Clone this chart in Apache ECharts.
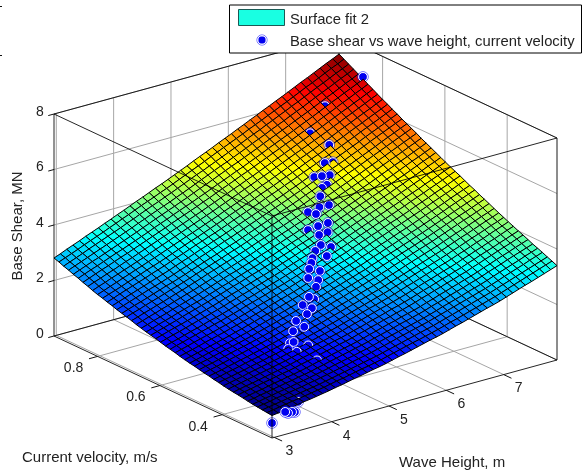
<!DOCTYPE html>
<html>
<head>
    <meta charset="utf-8">
    <title>Surface fit 2</title>
    <script src="https://cdn.jsdelivr.net/npm/echarts@6/dist/echarts.min.js"></script>
    <style>
        html, body { margin: 0; padding: 0; background: #fff; }
        #chart { width: 582px; height: 476px; }
    </style>
</head>
<body>
<div id="chart"></div>
<script type="text/javascript">
    // axis ticks
    var waveTicks = [3, 4, 5, 6, 7];
    var velTicks = [0.4, 0.6, 0.8];
    var shearTicks = [0, 2, 4, 6, 8];

    // box limits
    var waveRange = [2.96, 7.93];
    var velRange = [0.24, 0.94];
    var shearRange = [0, 8];

    // fitted surface, one row per velocity, one column per wave height
    var surfaceWave = [2.96, 3.07, 3.181, 3.291, 3.402, 3.512, 3.623, 3.733, 3.844, 3.954, 4.064, 4.175, 4.285, 4.396, 4.506, 4.617, 4.727, 4.838, 4.948, 5.058, 5.169, 5.279, 5.39, 5.5, 5.611, 5.721, 5.832, 5.942, 6.052, 6.163, 6.273, 6.384, 6.494, 6.605, 6.715, 6.826, 6.936, 7.046, 7.157, 7.267, 7.378, 7.488, 7.599, 7.709, 7.82, 7.93];
    var surfaceVel = [0.24, 0.256, 0.271, 0.287, 0.302, 0.318, 0.333, 0.349, 0.364, 0.38, 0.396, 0.411, 0.427, 0.442, 0.458, 0.473, 0.489, 0.504, 0.52, 0.536, 0.551, 0.567, 0.582, 0.598, 0.613, 0.629, 0.644, 0.66, 0.676, 0.691, 0.707, 0.722, 0.738, 0.753, 0.769, 0.784, 0.8, 0.816, 0.831, 0.847, 0.862, 0.878, 0.893, 0.909, 0.924, 0.94];
    var surfaceShear = [
        // v = 0.24
        [0.81,0.84,0.87,0.91,0.95,0.99,1.02,1.06,1.10, 1.14,1.19,1.23,1.28,1.33,1.37,1.42,1.47,1.51, 1.56,1.62,1.68,1.73,1.79,1.85,1.91,1.97,2.02, 2.08,2.15,2.22,2.28,2.35,2.42,2.49,2.56,2.62, 2.69,2.77,2.85,2.93,3.01,3.08,3.16,3.24,3.32, 3.40],
        [0.83,0.87,0.91,0.95,0.99,1.02,1.06,1.10,1.14, 1.18,1.23,1.28,1.32,1.37,1.42,1.47,1.51,1.56, 1.61,1.67,1.73,1.79,1.85,1.91,1.96,2.02,2.08, 2.14,2.21,2.28,2.34,2.41,2.48,2.55,2.62,2.69, 2.76,2.84,2.92,3.00,3.08,3.16,3.24,3.32,3.40, 3.48],
        [0.85,0.89,0.93,0.97,1.01,1.05,1.09,1.13,1.17, 1.21,1.26,1.31,1.36,1.41,1.46,1.51,1.56,1.61, 1.66,1.72,1.78,1.84,1.90,1.96,2.02,2.08,2.14, 2.20,2.27,2.34,2.41,2.48,2.55,2.62,2.69,2.76, 2.83,2.91,2.99,3.07,3.15,3.23,3.31,3.39,3.47, 3.55],
        [0.87,0.91,0.95,1.00,1.04,1.08,1.12,1.16,1.21, 1.25,1.30,1.35,1.40,1.45,1.50,1.56,1.61,1.66, 1.71,1.77,1.83,1.89,1.96,2.02,2.08,2.14,2.20, 2.26,2.33,2.40,2.47,2.54,2.61,2.68,2.75,2.82, 2.89,2.97,3.05,3.14,3.22,3.30,3.38,3.47,3.55, 3.63],
        [0.89,0.93,0.98,1.02,1.07,1.11,1.15,1.20,1.24, 1.29,1.34,1.39,1.44,1.50,1.55,1.60,1.65,1.71, 1.76,1.82,1.89,1.95,2.01,2.07,2.13,2.19,2.25, 2.31,2.38,2.45,2.53,2.60,2.67,2.74,2.82,2.89, 2.96,3.04,3.13,3.21,3.29,3.37,3.45,3.54,3.62, 3.70],
        [0.92,0.96,1.01,1.05,1.10,1.14,1.19,1.23,1.28, 1.32,1.37,1.43,1.48,1.54,1.59,1.65,1.70,1.76, 1.81,1.87,1.94,2.00,2.06,2.12,2.19,2.25,2.31, 2.37,2.44,2.52,2.59,2.66,2.74,2.81,2.88,2.96, 3.03,3.11,3.20,3.28,3.36,3.45,3.53,3.61,3.69, 3.77],
        [0.95,0.99,1.04,1.08,1.13,1.18,1.22,1.27,1.31, 1.36,1.41,1.47,1.53,1.58,1.64,1.69,1.75,1.80, 1.86,1.92,1.99,2.05,2.12,2.18,2.24,2.31,2.37, 2.43,2.50,2.58,2.65,2.73,2.80,2.88,2.95,3.03, 3.10,3.18,3.27,3.35,3.44,3.52,3.60,3.69,3.77, 3.85],
        [0.98,1.03,1.07,1.12,1.17,1.21,1.26,1.31,1.35, 1.40,1.46,1.51,1.57,1.63,1.69,1.74,1.80,1.85, 1.91,1.98,2.04,2.11,2.17,2.24,2.30,2.37,2.43, 2.50,2.57,2.65,2.72,2.80,2.87,2.95,3.02,3.10, 3.17,3.26,3.34,3.43,3.51,3.60,3.68,3.76,3.85, 3.93],
        [1.00,1.05,1.10,1.14,1.19,1.24,1.29,1.34,1.39, 1.44,1.50,1.56,1.61,1.67,1.73,1.79,1.85,1.90, 1.96,2.03,2.09,2.16,2.23,2.29,2.36,2.43,2.49, 2.56,2.63,2.71,2.79,2.86,2.94,3.02,3.09,3.17, 3.24,3.33,3.41,3.50,3.58,3.66,3.75,3.83,3.92, 4.00],
        // v = 0.38
        [1.03,1.08,1.13,1.18,1.23,1.28,1.33,1.38,1.43, 1.48,1.54,1.60,1.66,1.72,1.78,1.83,1.89,1.95, 2.01,2.08,2.15,2.21,2.28,2.35,2.42,2.48,2.55, 2.62,2.69,2.77,2.85,2.93,3.00,3.08,3.16,3.23, 3.31,3.40,3.48,3.57,3.65,3.74,3.82,3.91,4.00, 4.08],
        [1.06,1.11,1.16,1.21,1.27,1.32,1.37,1.42,1.47, 1.52,1.58,1.64,1.70,1.76,1.82,1.88,1.94,2.00, 2.06,2.13,2.20,2.27,2.34,2.41,2.47,2.54,2.61, 2.68,2.76,2.84,2.91,2.99,3.07,3.15,3.23,3.30, 3.38,3.47,3.55,3.64,3.73,3.81,3.90,3.99,4.07, 4.16],
        [1.10,1.15,1.20,1.25,1.30,1.36,1.41,1.46,1.52, 1.57,1.63,1.69,1.75,1.81,1.87,1.93,1.99,2.06, 2.12,2.19,2.26,2.33,2.40,2.47,2.54,2.61,2.68, 2.75,2.83,2.91,2.99,3.07,3.15,3.22,3.30,3.38, 3.46,3.55,3.63,3.72,3.81,3.89,3.98,4.07,4.15, 4.24],
        [1.13,1.18,1.24,1.29,1.34,1.40,1.45,1.50,1.56, 1.61,1.67,1.73,1.79,1.86,1.92,1.98,2.05,2.11, 2.18,2.25,2.32,2.39,2.46,2.53,2.60,2.67,2.74, 2.81,2.89,2.97,3.05,3.13,3.21,3.29,3.37,3.45, 3.53,3.62,3.71,3.80,3.88,3.97,4.06,4.15,4.23, 4.32],
        [1.17,1.22,1.27,1.33,1.38,1.44,1.49,1.55,1.60, 1.66,1.72,1.78,1.85,1.91,1.97,2.04,2.10,2.17, 2.23,2.30,2.38,2.45,2.52,2.59,2.67,2.74,2.81, 2.88,2.96,3.04,3.12,3.21,3.29,3.37,3.45,3.53, 3.61,3.70,3.79,3.88,3.96,4.05,4.14,4.23,4.31, 4.40],
        [1.20,1.26,1.31,1.37,1.43,1.48,1.54,1.60,1.65, 1.71,1.77,1.84,1.90,1.97,2.03,2.09,2.16,2.22, 2.29,2.36,2.44,2.51,2.58,2.66,2.73,2.80,2.88, 2.95,3.03,3.11,3.20,3.28,3.36,3.45,3.53,3.61, 3.69,3.78,3.87,3.96,4.05,4.14,4.22,4.31,4.40, 4.49],
        [1.24,1.30,1.35,1.41,1.47,1.53,1.59,1.64,1.70, 1.76,1.82,1.89,1.96,2.02,2.09,2.15,2.22,2.28, 2.35,2.42,2.50,2.57,2.65,2.72,2.79,2.87,2.94, 3.02,3.10,3.19,3.27,3.35,3.44,3.52,3.60,3.69, 3.77,3.86,3.95,4.04,4.13,4.22,4.30,4.39,4.48, 4.57],
        [1.28,1.34,1.39,1.45,1.51,1.57,1.62,1.68,1.74, 1.80,1.87,1.94,2.00,2.07,2.14,2.20,2.27,2.34, 2.41,2.48,2.56,2.63,2.71,2.78,2.86,2.93,3.01, 3.08,3.17,3.25,3.34,3.42,3.50,3.59,3.67,3.76, 3.84,3.93,4.02,4.11,4.20,4.29,4.38,4.47,4.56, 4.65],
        [1.31,1.37,1.43,1.49,1.55,1.61,1.67,1.73,1.79, 1.85,1.92,1.99,2.06,2.13,2.19,2.26,2.33,2.40, 2.47,2.55,2.62,2.70,2.77,2.85,2.93,3.00,3.08, 3.15,3.24,3.33,3.41,3.50,3.58,3.67,3.75,3.84, 3.92,4.01,4.10,4.19,4.28,4.38,4.47,4.56,4.65, 4.74],
        // v = 0.52
        [1.35,1.41,1.47,1.53,1.59,1.65,1.71,1.77,1.84, 1.90,1.97,2.04,2.11,2.18,2.25,2.32,2.39,2.46, 2.53,2.61,2.68,2.76,2.84,2.91,2.99,3.07,3.14, 3.22,3.31,3.39,3.48,3.57,3.65,3.74,3.83,3.91, 4.00,4.09,4.18,4.27,4.36,4.45,4.55,4.64,4.73, 4.82],
        [1.39,1.45,1.51,1.57,1.64,1.70,1.76,1.82,1.89, 1.95,2.02,2.09,2.16,2.23,2.31,2.38,2.45,2.52, 2.59,2.67,2.75,2.83,2.90,2.98,3.06,3.14,3.21, 3.29,3.38,3.47,3.56,3.65,3.73,3.82,3.91,3.99, 4.08,4.17,4.26,4.35,4.45,4.54,4.63,4.72,4.82, 4.91],
        [1.44,1.50,1.56,1.63,1.69,1.75,1.81,1.88,1.94, 2.01,2.08,2.15,2.22,2.30,2.37,2.44,2.51,2.59, 2.66,2.74,2.82,2.90,2.98,3.05,3.13,3.21,3.29, 3.37,3.46,3.55,3.64,3.73,3.81,3.90,3.99,4.07, 4.16,4.25,4.35,4.44,4.53,4.63,4.72,4.81,4.91, 5.00],
        [1.48,1.55,1.61,1.68,1.74,1.81,1.87,1.94,2.00, 2.07,2.14,2.21,2.29,2.36,2.43,2.50,2.58,2.65, 2.72,2.80,2.88,2.96,3.04,3.12,3.20,3.28,3.36, 3.44,3.53,3.62,3.71,3.80,3.89,3.98,4.06,4.15, 4.24,4.33,4.43,4.52,4.61,4.71,4.80,4.89,4.99, 5.08],
        [1.52,1.59,1.65,1.72,1.79,1.85,1.92,1.99,2.05, 2.12,2.19,2.27,2.34,2.42,2.49,2.57,2.64,2.72, 2.79,2.87,2.95,3.03,3.11,3.19,3.27,3.35,3.43, 3.51,3.60,3.69,3.78,3.87,3.96,4.05,4.14,4.23, 4.32,4.41,4.51,4.60,4.69,4.79,4.88,4.97,5.07, 5.16],
        [1.57,1.64,1.71,1.77,1.84,1.91,1.98,2.04,2.11, 2.18,2.25,2.33,2.40,2.48,2.55,2.63,2.70,2.78, 2.85,2.93,3.02,3.10,3.18,3.26,3.34,3.43,3.51, 3.59,3.68,3.77,3.86,3.95,4.04,4.13,4.22,4.31, 4.40,4.49,4.59,4.68,4.78,4.87,4.97,5.06,5.16, 5.25],
        [1.62,1.69,1.76,1.83,1.89,1.96,2.03,2.10,2.17, 2.24,2.31,2.39,2.47,2.54,2.62,2.69,2.77,2.84, 2.92,3.00,3.09,3.17,3.25,3.34,3.42,3.50,3.59, 3.67,3.76,3.85,3.94,4.03,4.12,4.21,4.30,4.39, 4.48,4.57,4.67,4.76,4.86,4.95,5.05,5.15,5.24, 5.34],
        [1.66,1.73,1.80,1.87,1.94,2.02,2.09,2.16,2.23, 2.30,2.38,2.45,2.53,2.61,2.68,2.76,2.84,2.91, 2.99,3.07,3.16,3.24,3.32,3.41,3.49,3.57,3.66, 3.74,3.83,3.92,4.01,4.10,4.20,4.29,4.38,4.47, 4.56,4.65,4.75,4.85,4.94,5.04,5.14,5.24,5.33, 5.43],
        [1.70,1.77,1.85,1.92,1.99,2.07,2.14,2.21,2.28, 2.35,2.43,2.51,2.59,2.66,2.74,2.82,2.90,2.97, 3.05,3.14,3.22,3.31,3.39,3.48,3.56,3.64,3.73, 3.81,3.90,4.00,4.09,4.18,4.27,4.36,4.46,4.55, 4.64,4.74,4.83,4.93,5.03,5.13,5.23,5.32,5.42, 5.52],
        // v = 0.66
        [1.75,1.82,1.90,1.97,2.04,2.12,2.19,2.26,2.34, 2.41,2.49,2.57,2.65,2.73,2.81,2.88,2.96,3.04, 3.12,3.21,3.29,3.38,3.46,3.55,3.63,3.72,3.80, 3.89,3.98,4.07,4.17,4.26,4.35,4.44,4.54,4.63, 4.72,4.82,4.92,5.02,5.12,5.21,5.31,5.41,5.51, 5.61],
        [1.80,1.87,1.95,2.02,2.10,2.17,2.25,2.32,2.40, 2.47,2.55,2.63,2.71,2.79,2.87,2.95,3.03,3.11, 3.19,3.28,3.37,3.45,3.54,3.63,3.71,3.80,3.88, 3.97,4.06,4.16,4.25,4.34,4.44,4.53,4.62,4.72, 4.81,4.91,5.01,5.11,5.21,5.30,5.40,5.50,5.60, 5.70],
        [1.86,1.93,2.01,2.08,2.16,2.23,2.31,2.39,2.46, 2.54,2.62,2.70,2.79,2.87,2.95,3.03,3.11,3.19, 3.27,3.36,3.45,3.53,3.62,3.71,3.79,3.88,3.96, 4.05,4.14,4.24,4.33,4.43,4.52,4.62,4.71,4.81, 4.90,5.00,5.10,5.20,5.30,5.40,5.50,5.60,5.70, 5.80],
        [1.91,1.99,2.06,2.14,2.22,2.29,2.37,2.45,2.52, 2.60,2.68,2.77,2.85,2.93,3.01,3.09,3.18,3.26, 3.34,3.43,3.52,3.61,3.70,3.79,3.87,3.96,4.05, 4.14,4.23,4.33,4.42,4.52,4.61,4.71,4.80,4.90, 4.99,5.09,5.19,5.29,5.39,5.49,5.59,5.69,5.79, 5.89],
        [1.96,2.04,2.12,2.19,2.27,2.35,2.43,2.51,2.58, 2.66,2.74,2.83,2.91,3.00,3.08,3.16,3.25,3.33, 3.41,3.50,3.59,3.68,3.77,3.86,3.95,4.04,4.13, 4.22,4.31,4.41,4.50,4.60,4.69,4.79,4.88,4.98, 5.07,5.17,5.27,5.37,5.47,5.58,5.68,5.78,5.88, 5.98],
        [2.01,2.09,2.17,2.25,2.33,2.41,2.48,2.56,2.64, 2.72,2.81,2.89,2.98,3.07,3.15,3.24,3.32,3.41, 3.49,3.58,3.67,3.76,3.85,3.94,4.03,4.12,4.21, 4.30,4.40,4.49,4.59,4.68,4.78,4.87,4.97,5.06, 5.16,5.26,5.36,5.46,5.57,5.67,5.77,5.87,5.97, 6.07],
        [2.07,2.15,2.23,2.31,2.39,2.47,2.55,2.63,2.71, 2.79,2.88,2.97,3.05,3.14,3.23,3.31,3.40,3.48, 3.57,3.66,3.75,3.84,3.93,4.02,4.11,4.20,4.29, 4.38,4.48,4.57,4.67,4.77,4.86,4.96,5.06,5.15, 5.25,5.35,5.45,5.55,5.66,5.76,5.86,5.96,6.07, 6.17],
        [2.12,2.20,2.29,2.37,2.45,2.53,2.61,2.70,2.78, 2.86,2.95,3.04,3.12,3.21,3.30,3.38,3.47,3.55, 3.64,3.73,3.83,3.92,4.01,4.10,4.19,4.29,4.38, 4.47,4.57,4.66,4.76,4.86,4.95,5.05,5.15,5.24, 5.34,5.44,5.54,5.64,5.75,5.85,5.95,6.05,6.16, 6.26],
        [2.18,2.26,2.34,2.42,2.51,2.59,2.67,2.76,2.84, 2.92,3.01,3.10,3.19,3.28,3.37,3.45,3.54,3.63, 3.72,3.81,3.91,4.00,4.09,4.18,4.27,4.37,4.46, 4.55,4.65,4.75,4.84,4.94,5.04,5.14,5.23,5.33, 5.43,5.53,5.63,5.74,5.84,5.94,6.05,6.15,6.25, 6.36],
        // v = 0.80
        [2.23,2.31,2.40,2.48,2.57,2.65,2.74,2.82,2.91, 2.99,3.08,3.17,3.26,3.35,3.44,3.52,3.61,3.70, 3.79,3.88,3.98,4.07,4.16,4.26,4.35,4.44,4.54, 4.63,4.73,4.83,4.93,5.03,5.13,5.22,5.32,5.42, 5.52,5.62,5.73,5.83,5.93,6.04,6.14,6.24,6.35, 6.45],
        [2.29,2.38,2.46,2.55,2.63,2.72,2.80,2.89,2.97, 3.06,3.15,3.24,3.33,3.42,3.51,3.60,3.69,3.78, 3.87,3.96,4.06,4.15,4.25,4.34,4.44,4.53,4.63, 4.72,4.82,4.92,5.02,5.12,5.22,5.31,5.41,5.51, 5.61,5.71,5.82,5.92,6.03,6.13,6.24,6.34,6.45, 6.55],
        [2.36,2.45,2.53,2.62,2.70,2.79,2.88,2.96,3.05, 3.14,3.23,3.32,3.41,3.50,3.59,3.68,3.77,3.86, 3.95,4.05,4.14,4.24,4.33,4.43,4.52,4.62,4.71, 4.81,4.91,5.01,5.11,5.21,5.31,5.41,5.51,5.61, 5.71,5.81,5.92,6.02,6.13,6.23,6.34,6.44,6.55, 6.65],
        [2.42,2.51,2.60,2.69,2.77,2.86,2.95,3.03,3.12, 3.21,3.30,3.39,3.48,3.57,3.67,3.76,3.85,3.94, 4.03,4.13,4.22,4.32,4.42,4.51,4.61,4.71,4.80, 4.90,5.00,5.10,5.20,5.30,5.40,5.50,5.60,5.70, 5.80,5.90,6.01,6.11,6.22,6.33,6.43,6.54,6.64, 6.75],
        [2.49,2.58,2.67,2.75,2.84,2.93,3.02,3.10,3.19, 3.28,3.37,3.46,3.56,3.65,3.74,3.84,3.93,4.02, 4.11,4.21,4.30,4.40,4.50,4.59,4.69,4.79,4.88, 4.98,5.08,5.18,5.29,5.39,5.49,5.59,5.69,5.80, 5.90,6.00,6.11,6.22,6.33,6.43,6.54,6.64,6.75, 6.85],
        [2.55,2.64,2.73,2.82,2.90,2.99,3.08,3.17,3.26, 3.35,3.44,3.54,3.63,3.73,3.82,3.91,4.00,4.10, 4.19,4.29,4.39,4.48,4.58,4.68,4.78,4.88,4.97, 5.07,5.17,5.27,5.38,5.48,5.58,5.68,5.78,5.89, 5.99,6.09,6.20,6.31,6.42,6.52,6.63,6.74,6.84, 6.95],
        [2.62,2.71,2.80,2.89,2.98,3.07,3.16,3.25,3.34, 3.43,3.52,3.62,3.71,3.81,3.90,3.99,4.08,4.18, 4.27,4.37,4.47,4.57,4.67,4.77,4.87,4.96,5.06, 5.16,5.26,5.37,5.47,5.57,5.68,5.78,5.88,5.99, 6.09,6.19,6.30,6.41,6.52,6.62,6.73,6.84,6.94, 7.05],
        [2.68,2.77,2.86,2.95,3.05,3.14,3.23,3.32,3.41, 3.50,3.60,3.69,3.79,3.89,3.98,4.07,4.17,4.26, 4.36,4.46,4.56,4.66,4.75,4.85,4.95,5.05,5.15, 5.25,5.35,5.46,5.56,5.66,5.77,5.87,5.98,6.08, 6.19,6.29,6.40,6.51,6.62,6.72,6.83,6.94,7.04, 7.15],
        [2.75,2.84,2.93,3.02,3.12,3.21,3.30,3.39,3.49, 3.58,3.68,3.77,3.87,3.97,4.06,4.15,4.25,4.34, 4.44,4.54,4.64,4.74,4.84,4.94,5.05,5.15,5.25, 5.35,5.45,5.55,5.66,5.76,5.86,5.97,6.07,6.18, 6.28,6.39,6.50,6.61,6.71,6.82,6.93,7.04,7.14, 7.25],
        // v = 0.94
        [2.81,2.90,3.00,3.09,3.18,3.28,3.37,3.46,3.56, 3.65,3.75,3.84,3.94,4.04,4.13,4.23,4.33,4.42, 4.52,4.62,4.72,4.82,4.93,5.03,5.13,5.23,5.34, 5.44,5.54,5.65,5.75,5.86,5.96,6.07,6.17,6.28, 6.38,6.49,6.60,6.71,6.81,6.92,7.03,7.14,7.24, 7.35]
    ];

    // measured points
    var pointWave = [7.93, 7.30, 6.85, 6.88, 6.64, 6.80, 6.39, 6.47, 6.58, 6.47, 6.39, 6.24, 6.10, 6.24, 5.97, 5.96, 6.01, 5.86, 5.76, 5.78, 5.94, 5.68, 5.83, 5.61, 5.61, 5.47, 5.39, 5.27, 5.36, 5.15, 5.27, 5.21, 4.93, 5.02, 4.76, 4.84, 4.70, 4.51, 4.50, 4.36, 4.19, 4.18, 4.15, 4.19, 4.40, 4.29, 3.53, 3.36, 3.31, 3.24, 3.19, 2.96];
    var pointVel = [0.863, 0.869, 0.834, 0.778, 0.748, 0.752, 0.736, 0.726, 0.721, 0.710, 0.711, 0.689, 0.666, 0.661, 0.653, 0.677, 0.622, 0.626, 0.640, 0.608, 0.610, 0.584, 0.579, 0.552, 0.589, 0.572, 0.561, 0.546, 0.528, 0.527, 0.517, 0.513, 0.484, 0.484, 0.473, 0.458, 0.448, 0.448, 0.420, 0.430, 0.397, 0.407, 0.407, 0.387, 0.389, 0.340, 0.261, 0.24, 0.24, 0.24, 0.24, 0.24];
    var pointShear = [6.93, 6.20, 5.66, 5.52, 5.16, 5.08, 4.86, 4.90, 4.90, 4.67, 4.60, 4.50, 4.31, 4.33, 4.20, 4.15, 4.02, 3.97, 3.81, 3.79, 3.79, 3.61, 3.48, 3.42, 3.41, 3.32, 3.25, 3.18, 3.15, 3.02, 2.93, 2.74, 2.69, 2.56, 2.55, 2.47, 2.39, 2.25, 2.19, 2.06, 1.94, 1.85, 1.66, 1.64, 1.74, 1.52, 0.87, 0.71, 0.74, 0.74, 0.81, 0.54];

    var colorMin = 0.8, colorMax = 7.35;

    // fixed view of the box, same idea as matlab view(az, el)
    function project(wave, vel, shear) {
        var u = (wave - waveRange[0]) / (waveRange[1] - waveRange[0]);
        var w = (vel - velRange[0]) / (velRange[1] - velRange[0]);
        var h = (shear - shearRange[0]) / (shearRange[1] - shearRange[0]);
        return [272 + 285 * u - 218 * w, 438 - 78 * u - 102 * w - 222 * h];
    }

    function depth(wave, vel) {
        var u = (wave - waveRange[0]) / (waveRange[1] - waveRange[0]);
        var w = (vel - velRange[0]) / (velRange[1] - velRange[0]);
        return 78 * u + 102 * w;
    }

    function jet(t) {
        t = Math.max(0, Math.min(1, t));
        function part(a) { return Math.round(255 * Math.max(0, Math.min(1, 1.5 - Math.abs(4 * t - a)))); }
        return 'rgb(' + part(3) + ',' + part(2) + ',' + part(1) + ')';
    }

    // ---- segments of the box ----
    var x0 = waveRange[0], x1 = waveRange[1], v0 = velRange[0], v1 = velRange[1], z0 = shearRange[0], z1 = shearRange[1];
    var gridLines = [], backLines = [], frontLines = [], tickLines = [];

    waveTicks.forEach(function (t) {
        gridLines.push([t, v0, z0, t, v1, z0]);
        gridLines.push([t, v1, z0, t, v1, z1]);
        tickLines.push([t, v0, z0, t, v0 - 0.025, z0]);
    });
    velTicks.forEach(function (t) {
        gridLines.push([x0, t, z0, x1, t, z0]);
        gridLines.push([x1, t, z0, x1, t, z1]);
        tickLines.push([x0 - 0.15, t, z0, x0, t, z0]);
    });
    shearTicks.forEach(function (t) {
        gridLines.push([x0, v1, t, x1, v1, t]);
        gridLines.push([x1, v1, t, x1, v0, t]);
        tickLines.push([x0 - 0.1, v1, t, x0, v1, t]);
    });
    backLines.push([x0, v1, z0, x1, v1, z0], [x1, v1, z0, x1, v0, z0]);
    backLines.push([x0, v1, z1, x1, v1, z1], [x1, v1, z1, x1, v0, z1]);
    backLines.push([x1, v1, z0, x1, v1, z1]);
    backLines.push([x1, v0, z0, x1, v0, z1]);
    frontLines.push([x0, v0, z0, x1, v0, z0], [x0, v0, z0, x0, v1, z0]);
    frontLines.push([x0, v1, z0, x0, v1, z1]);
    frontLines.push([x0, v0, z0, x0, v0, z1]);
    frontLines.push([x0, v0, z1, x0, v1, z1], [x0, v0, z1, x1, v0, z1]);

    function lineSeries(name, segments, color, width, z) {
        return {
            name: name, type: 'custom', coordinateSystem: 'cartesian2d', silent: true, z: z,
            animation: false, clip: false, progressive: 0,
            data: segments,
            renderItem: function (params, api) {
                var a = project(api.value(0), api.value(1), api.value(2));
                var b = project(api.value(3), api.value(4), api.value(5));
                var p = api.coord(a), q = api.coord(b);
                return {
                    type: 'line',
                    shape: { x1: p[0], y1: p[1], x2: q[0], y2: q[1] },
                    style: { stroke: color, lineWidth: width }
                };
            }
        };
    }

    // ---- surface cells and points, back to front ----
    var items = [];
    for (var j = 0; j < surfaceVel.length - 1; j++) {
        for (var i = 0; i < surfaceWave.length - 1; i++) {
            items.push([0, i, j, depth((surfaceWave[i] + surfaceWave[i + 1]) / 2, (surfaceVel[j] + surfaceVel[j + 1]) / 2)]);
        }
    }
    pointWave.forEach(function (w, k) {
        items.push([1, k, 0, depth(w, pointVel[k])]);
    });
    items.sort(function (a, b) { return b[3] - a[3]; });

    function renderSurface(params, api) {
        var kind = api.value(0), a = api.value(1), b = api.value(2);
        if (kind === 1) {
            var c = api.coord(project(pointWave[a], pointVel[a], pointShear[a]));
            return {
                type: 'group',
                children: [
                    { type: 'circle', shape: { cx: c[0], cy: c[1], r: 5.3 }, style: { fill: 'none', stroke: 'rgba(20,20,255,0.8)', lineWidth: 0.8 } },
                    { type: 'circle', shape: { cx: c[0], cy: c[1], r: 4.4 }, style: { fill: '#0000f0', stroke: '#fff', lineWidth: 1 } }
                ]
            };
        }
        var s00 = surfaceShear[b][a], s10 = surfaceShear[b][a + 1], s11 = surfaceShear[b + 1][a + 1], s01 = surfaceShear[b + 1][a];
        var pts = [
            api.coord(project(surfaceWave[a], surfaceVel[b], s00)),
            api.coord(project(surfaceWave[a + 1], surfaceVel[b], s10)),
            api.coord(project(surfaceWave[a + 1], surfaceVel[b + 1], s11)),
            api.coord(project(surfaceWave[a], surfaceVel[b + 1], s01))
        ];
        return {
            type: 'polygon',
            shape: { points: pts },
            style: { fill: jet(((s00 + s10 + s11 + s01) / 4 - colorMin) / (colorMax - colorMin)), stroke: '#000', lineWidth: 1 }
        };
    }

    // ---- tick labels ----
    var labels = [];
    waveTicks.forEach(function (t) { labels.push([t, v0, z0, 15, 14, String(t)]); });
    velTicks.forEach(function (t) { labels.push([x0, t, z0, -24, 12, String(t)]); });
    shearTicks.forEach(function (t) { labels.push([x0, v1, t, -14, -2, String(t)]); });

    function renderLabel(params, api) {
        var c = api.coord(project(api.value(0), api.value(1), api.value(2)));
        return {
            type: 'text',
            style: {
                x: c[0] + api.value(3), y: c[1] + api.value(4), text: labels[params.dataIndex][5],
                fill: '#222', font: '14px "Liberation Sans"', textAlign: 'center', textVerticalAlign: 'middle'
            }
        };
    }

    var myChart = echarts.init(document.getElementById('chart'), null, { renderer: 'canvas' });
    myChart.setOption({
        animation: false,
        backgroundColor: '#fff',
        grid: { left: 0, right: 0, top: 0, bottom: 0 },
        xAxis: { type: 'value', min: 0, max: 582, show: false },
        yAxis: { type: 'value', min: 0, max: 476, inverse: true, show: false },
        series: [
            lineSeries('grid', gridLines, '#a6a6a6', 1, 1),
            lineSeries('back', backLines, '#1a1a1a', 1, 1),
            {
                name: 'Surface fit 2', type: 'custom', coordinateSystem: 'cartesian2d', silent: true, z: 2,
                animation: false, clip: false, progressive: 0,
                data: items,
                renderItem: renderSurface
            },
            lineSeries('front', frontLines, 'rgba(0,0,0,0.85)', 1, 3),
            lineSeries('ticks', tickLines, '#111', 1, 3),
            {
                name: 'labels', type: 'custom', coordinateSystem: 'cartesian2d', silent: true, z: 3,
                animation: false, clip: false, progressive: 0,
                data: labels,
                renderItem: renderLabel
            }
        ],
        graphic: [
            { type: 'rect', z: 100, shape: { x: 229.5, y: 5, width: 352, height: 48 }, style: { fill: '#fff', stroke: '#000', lineWidth: 1 } },
            { type: 'rect', z: 101, shape: { x: 238.5, y: 9.5, width: 46, height: 16 }, style: { fill: '#19ffe2', stroke: '#1a5a55', lineWidth: 1 } },
            { type: 'circle', z: 101, shape: { cx: 262, cy: 40, r: 5.1 }, style: { fill: 'none', stroke: 'rgba(20,20,255,0.8)', lineWidth: 0.8 } },
            { type: 'circle', z: 101, shape: { cx: 262, cy: 40, r: 4.1 }, style: { fill: '#0000f0', stroke: '#fff', lineWidth: 1 } },
            { type: 'text', z: 101, x: 290, y: 20, style: { text: 'Surface fit 2', fill: '#222', font: '14.8px "Liberation Sans"', textVerticalAlign: 'middle' } },
            { type: 'text', z: 101, x: 290, y: 42, style: { text: 'Base shear vs wave height, current velocity', fill: '#222', font: '14.8px "Liberation Sans"', textVerticalAlign: 'middle' } },
            { type: 'text', z: 101, x: 18, y: 226, rotation: Math.PI / 2, style: { text: 'Base Shear, MN', fill: '#222', font: '15px "Liberation Sans"', textAlign: 'center', textVerticalAlign: 'middle' } },
            { type: 'text', z: 101, x: 22, y: 458, style: { text: 'Current velocity, m/s', fill: '#222', font: '15px "Liberation Sans"', textVerticalAlign: 'middle' } },
            { type: 'text', z: 101, x: 399, y: 463, style: { text: 'Wave Height, m', fill: '#222', font: '15px "Liberation Sans"', textVerticalAlign: 'middle' } },
            { type: 'rect', z: 101, shape: { x: 0, y: 6, width: 2, height: 1 }, style: { fill: '#111' } },
            { type: 'rect', z: 101, shape: { x: 0, y: 55, width: 2, height: 1 }, style: { fill: '#111' } }
        ]
    });
</script>
</body>
</html>
